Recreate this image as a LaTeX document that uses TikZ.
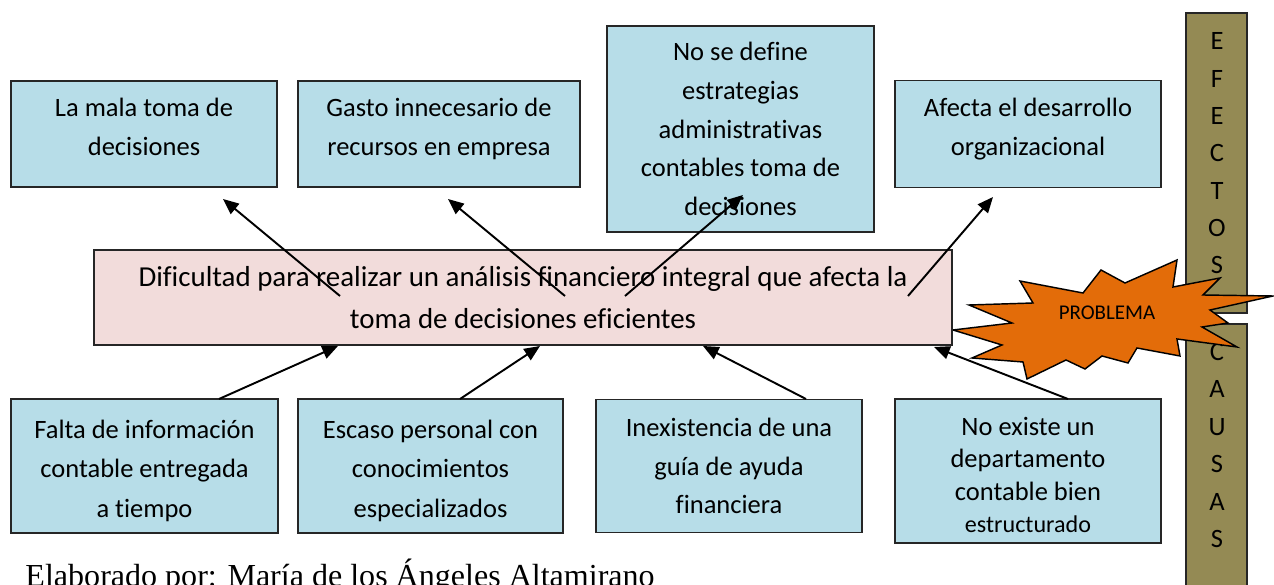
\documentclass[tikz,border=0pt]{standalone}
\usepackage{fontspec}
\setmainfont{Carlito}[Ligatures=NoCommon]
\newfontfamily\captionserif{Liberation Serif}
\usetikzlibrary{arrows.meta}
\definecolor{efbox}{HTML}{B7DDE8}
\definecolor{probbox}{HTML}{F2DCDB}
\definecolor{barolive}{HTML}{948A54}
\definecolor{burst}{HTML}{E36C09}
\begin{document}
\begin{tikzpicture}[x=0.415pt,y=-0.415pt,
  cbox/.style={draw=black!85,line width=0.8pt,fill=efbox,inner sep=0pt,outer sep=0pt,align=center,font=\fontsize{11}{16}\selectfont,minimum width=110.4pt,minimum height=44pt},
  pbox/.style={cbox,fill=probbox,font=\fontsize{12}{17.4}\selectfont,minimum width=356.1pt,minimum height=39.4pt},
  vbar/.style={draw=black!85,line width=0.8pt,fill=barolive,minimum width=25.3pt,inner sep=0pt,outer sep=0pt},
  vtext/.style={align=center,font=\fontsize{11}{15.5}\selectfont,inner sep=0pt},
  arr/.style={line width=0.8pt,-{Triangle[length=6.5pt,width=5.5pt]}}]
\useasboundingbox (0,0) rectangle (1274,585);
\node (efbar) [vbar,minimum height=124.5pt] at (1216.5,163) {};\node (cabar) [vbar,minimum height=114.5pt] at (1216.5,462) {};
\node (eftxt) [vtext] at (1217,153.5) {E\\F\\E\\C\\T\\O\\S};\node (catxt) [vtext] at (1217,445.5) {C\\A\\U\\S\\A\\S};
\filldraw[fill=burst,draw=black,line width=0.6pt] (953,330) -- (1012,323) -- (969,305) -- (1033,303) -- (1020,281) -- (1083,293) -- (1101,270) -- (1125,283) -- (1177,260) -- (1173,287) -- (1220,278) -- (1203,295) -- (1273,296) -- (1210,310) -- (1228,323) -- (1202,327) -- (1237,347) -- (1177,339) -- (1180,356) -- (1137,348) -- (1128,363) -- (1102,356) -- (1085,369) -- (1066,360) -- (1027,379) -- (1023,362) -- (972,358) -- (1002,345) -- cycle;
\node (burst) [font=\fontsize{8.7}{10}\selectfont] at (1107,313) {PROBLEMA};
\node (prob) [pbox] at (523,297.5) {Dificultad para realizar un análisis financiero integral que afecta la\\toma de decisiones eficientes};
\node (ef1) [cbox,text depth=6pt] at (144,134) {La mala toma de\\decisiones};
\node (ef2) [cbox,text depth=6pt,minimum width=117pt] at (439,134) {Gasto innecesario de\\recursos en empresa};
\node (ef3) [cbox,minimum width=110.8pt,minimum height=85.5pt] at (740.5,129) {No se define\\estrategias\\administrativas\\contables toma de\\decisiones};
\node (ef4) [cbox,text depth=6pt,minimum height=44.4pt] at (1028,134) {Afecta el desarrollo\\organizacional};
\node (ca1) [cbox,text height=44.5pt,minimum width=110.8pt,minimum height=55.6pt,font=\fontsize{11}{16.4}\selectfont] at (144.5,466) {Falta de información\\contable entregada\\a tiempo};
\node (ca2) [cbox,text height=44.5pt,minimum width=110pt,minimum height=55.6pt,font=\fontsize{11}{16.4}\selectfont] at (430.5,466) {Escaso personal con\\conocimientos\\especializados};
\node (ca3) [cbox,minimum height=55.2pt] at (729,466) {Inexistencia de una\\guía de ayuda\\financiera};
\node (ca4) [cbox,text height=51.5pt,minimum height=59.8pt,font=\fontsize{11}{13.5}\selectfont] at (1028,471) {No existe un\\departamento\\contable bien\\{\fontsize{10}{12}\selectfont estructurado}};
\coordinate (t1) at (340,296);\coordinate (h1) at (223,199);\coordinate (t2) at (565,296);\coordinate (h2) at (448,199);
\coordinate (t3) at (625,296);\coordinate (h3) at (743,195);\coordinate (t4) at (908,296);\coordinate (h4) at (993,197);
\coordinate (s1) at (219,399);\coordinate (p1) at (338,346);\coordinate (s2) at (460,399);\coordinate (p2) at (540,346);
\coordinate (s3) at (806,399);\coordinate (p3) at (703,346);\coordinate (s4) at (1068,399);\coordinate (p4) at (934,347);
\foreach \a/\b in {t1/h1,t2/h2,t3/h3,t4/h4,s1/p1,s2/p2,s3/p3,s4/p4} \draw[arr] (\a) -- (\b);
\node (autor) [anchor=base west,inner sep=0pt,font=\captionserif\fontsize{13.3}{16}\selectfont] at (25,587) {Elaborado por: María de los Ángeles Altamirano};
\end{tikzpicture}
\end{document}
